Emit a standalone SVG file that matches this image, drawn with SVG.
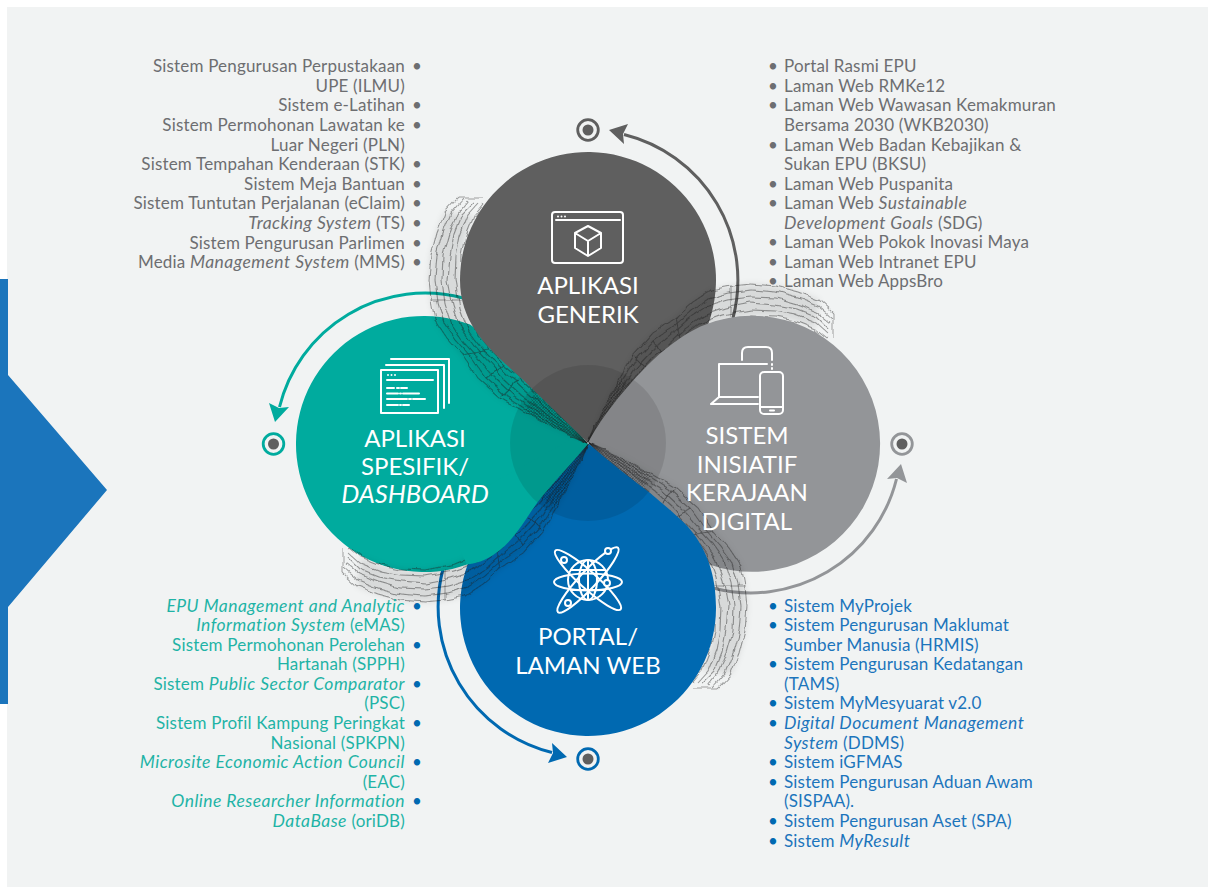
<svg xmlns="http://www.w3.org/2000/svg" width="1208" height="887" viewBox="0 0 1208 887">
<style>
text{font-family:"Lato","Open Sans","Liberation Sans",sans-serif}
.l{font-size:17px;letter-spacing:.18px}
.l .i{font-size:17.5px;letter-spacing:.45px}
.e{text-anchor:end}
.gr{fill:#6d6e71}
.te{fill:#1fb3a6}
.bl{fill:#1c75bc}
.bb{fill:#0069b1}
.i{font-style:italic}
.lab{font-size:24px;fill:#fff;text-anchor:middle}
.lab.i{font-size:25.5px}
.ic{fill:none;stroke:#fff;stroke-width:2;stroke-linecap:round;stroke-linejoin:round}
.w{fill:#fff}
.bandline{fill:none;stroke:#222;stroke-width:1.1;stroke-opacity:.42}
</style>
<defs>
<filter id="rough" filterUnits="userSpaceOnUse" x="400" y="170" width="210" height="300">
<feTurbulence type="fractalNoise" baseFrequency="0.09" numOctaves="1" seed="7" result="n"/>
<feDisplacementMap in="SourceGraphic" in2="n" scale="7" xChannelSelector="R" yChannelSelector="G"/>
</filter>
<filter id="soft" filterUnits="userSpaceOnUse" x="400" y="170" width="210" height="300"><feGaussianBlur stdDeviation="3"/></filter>
<pattern id="hatch" width="3" height="3" patternUnits="userSpaceOnUse"><path d="M0 0L3 3M3 0L0 3" stroke="#111" stroke-width=".5" fill="none"/></pattern>
<g id="band">
<path filter="url(#soft)" fill="#000" fill-opacity=".1" d="M445 212L437 232L431 255L429 280L431 300L435 320L447 338L462 355L478 378L500 398L525 412L552 427L587 442L570 425L552 408L535 392L520 378L505 365L490 350L478 335L467 310L461 280L462 256L466 236L474 216Z"/>
<path fill="url(#hatch)" fill-opacity=".4" d="M525 412L552 427L587 442L570 425L552 408L535 392Z"/>
<g filter="url(#rough)" class="bandline">
<path d="M458 198L445 212L437 232L431 255L429 280L431 300L435 320L447 338L462 355L478 378L500 398L525 412L552 427L587 442"/>
<path d="M463 199L451 213L443 233L437 255L435 280L438 302L444 323L456 340L471 357L486 378L507 397L530 411L556 427L587 442"/>
<path d="M468 200L457 214L449 234L443 255L442 280L445 304L452 326L464 343L479 359L495 378L514 396L536 410L559 426L587 442"/>
<path d="M474 202L462 214L454 234L450 256L448 280L453 306L461 329L473 345L488 361L503 378L521 395L541 410L563 426L587 442"/>
<path d="M479 203L468 215L460 235L456 256L455 280L460 308L469 332L481 348L496 363L512 378L528 393L547 409L566 425L587 442"/>
<path d="M484 204L474 216L466 236L462 256L461 280L467 310L478 335L490 350L505 365L520 378L535 392L552 408L570 425L587 442"/>
<path d="M458 198H484M431 300H461M462 355L490 350M486 378L505 365M500 398L520 378"/>
</g>
</g>
<g id="arc">
<path d="M733 318A150 150 0 0 0 624 134.500" fill="none" stroke="currentColor" stroke-width="3"/>
<polygon points="609,130 628,124 623,134 624,144" fill="currentColor"/>
</g>
</defs>

<rect width="1208" height="887" fill="#fff"/>
<rect id="panel" x="7" y="7" width="1201" height="880" fill="#f1f3f3"/>
<path id="side-arrow" d="M0 279H8V375L107 490L8 607V704H0Z" fill="#1b75bc"/>

<g id="connectors">
<use href="#arc" color="#5f5f5f"/>
<use href="#arc" color="#939598" transform="rotate(90 588 443)"/>
<use href="#arc" color="#0069b1" transform="rotate(180 588 443) translate(0 -1)"/>
<use href="#arc" color="#00ab9e" transform="rotate(-90 588 443)"/>
</g>

<g id="petals">
<path id="petal-teal" fill="#00ab9e" d="M588 444C570 465 552 484 537 503C525 520 515 538 500 550C490 558 480 563 467 564.600A128 128 0 1 1 470 324.600L520 360Z"/>
<use href="#band"/>
<path id="petal-dark" fill="#5f5f5f" d="M588 443L520 377C490 350 460 325 460 280A128 128 0 1 1 680 369Z"/>
<use href="#band" transform="rotate(90 588 443)"/>
<path id="petal-grey" fill="#939598" d="M588 443C600 420 622 390 653 360C670 344 690 330 707 324A128 128 0 1 1 670 542Z"/>
<use href="#band" transform="rotate(180 588 443)"/>
<path id="petal-blue" fill="#0069b1" d="M589 444C610 462 630 478 650 493C670 510 685 522 693 533C707 552 716 575 716 608A128 128 0 1 1 496 519Z"/>
<use href="#band" transform="rotate(270 588 443)"/>
<path id="petal-teal-front" fill="#00ab9e" d="M588 444C570 465 552 484 537 503C525 520 515 538 500 550C490 558 480 563 467 564.600L455 540L480 490L570 440Z"/>
<circle id="hub" cx="588" cy="443" r="78" fill="#000" fill-opacity=".1"/>
</g>

<g id="targets">
<circle cx="588" cy="130" r="10.3" fill="none" stroke="#5f5f5f" stroke-width="2.8"/><circle cx="588" cy="130" r="5.5" fill="#5f5f5f"/>
<circle cx="273.500" cy="444" r="10.3" fill="none" stroke="#00ab9e" stroke-width="2.8"/><circle cx="273.500" cy="444" r="5.500" fill="#5f5f5f"/>
<circle cx="588" cy="759" r="10.3" fill="none" stroke="#0069b1" stroke-width="2.8"/><circle cx="588" cy="759" r="5.5" fill="#5f5f5f"/>
<circle cx="902" cy="444" r="10.3" fill="none" stroke="#939598" stroke-width="2.8"/><circle cx="902" cy="444" r="5.5" fill="#5f5f5f"/>
</g>

<g id="node-generik">
<g class="ic">
<rect x="552" y="212" width="71" height="51" rx="3"/>
<path d="M556 220H620"/>
<path d="M588 226L601 233V248L588 256L575 248V233ZM575 233L588 241L601 233M588 241V256"/>
</g>
<circle class="w" cx="558" cy="216.500" r="1"/><circle class="w" cx="561.500" cy="216.500" r="1"/><circle class="w" cx="565" cy="216.500" r="1"/>
<text class="lab" x="588" y="294">APLIKASI</text>
<text class="lab" x="588" y="323">GENERIK</text>
<g class="l gr">
<text class="e" x="405" y="72">Sistem Pengurusan Perpustakaan</text>
<text class="e" x="405" y="92">UPE (ILMU)</text>
<text class="e" x="405" y="111">Sistem e-Latihan</text>
<text class="e" x="405" y="131">Sistem Permohonan Lawatan ke</text>
<text class="e" x="405" y="151">Luar Negeri (PLN)</text>
<text class="e" x="405" y="170">Sistem Tempahan Kenderaan (STK)</text>
<text class="e" x="405" y="190">Sistem Meja Bantuan</text>
<text class="e" x="405" y="209">Sistem Tuntutan Perjalanan (eClaim)</text>
<text class="e" x="405" y="229"><tspan class="i">Tracking System</tspan> (TS)</text>
<text class="e" x="405" y="249">Sistem Pengurusan Parlimen</text>
<text class="e" x="405" y="268">Media <tspan class="i">Management System</tspan> (MMS)</text>
<text x="412" y="72">•</text><text x="412" y="111">•</text><text x="412" y="131">•</text><text x="412" y="170">•</text><text x="412" y="190">•</text><text x="412" y="209">•</text><text x="412" y="229">•</text><text x="412" y="249">•</text><text x="412" y="268">•</text>
<text x="784" y="72">Portal Rasmi EPU</text>
<text x="784" y="92">Laman Web RMKe12</text>
<text x="784" y="111">Laman Web Wawasan Kemakmuran</text>
<text x="784" y="131">Bersama 2030 (WKB2030)</text>
<text x="784" y="151">Laman Web Badan Kebajikan &amp;</text>
<text x="784" y="170">Sukan EPU (BKSU)</text>
<text x="784" y="190">Laman Web Puspanita</text>
<text x="784" y="209">Laman Web <tspan class="i">Sustainable</tspan></text>
<text x="784" y="229"><tspan class="i">Development Goals</tspan> (SDG)</text>
<text x="784" y="248">Laman Web Pokok Inovasi Maya</text>
<text x="784" y="268">Laman Web Intranet EPU</text>
<text x="784" y="287">Laman Web AppsBro</text>
<text x="768" y="72">•</text><text x="768" y="92">•</text><text x="768" y="111">•</text><text x="768" y="151">•</text><text x="768" y="190">•</text><text x="768" y="209">•</text><text x="768" y="248">•</text><text x="768" y="268">•</text><text x="768" y="287">•</text>
</g>
</g>

<g id="node-spesifik">
<g class="ic">
<rect x="381" y="370" width="57" height="43"/>
<path d="M386 365H444V408M391 359H449V403M387 380H433"/>
<path d="M387 388H394M397 388H399M401 388H407M387 393.500H398M400 393.500H401M403 393.500H419M387 399H407M409 399H411M413 399H425M387 405H398M400 405H401M403 405H409"/>
</g>
<circle class="w" cx="388" cy="375" r="1"/><circle class="w" cx="391.500" cy="375" r="1"/><circle class="w" cx="395" cy="375" r="1"/>
<text class="lab" x="415" y="447">APLIKASI</text>
<text class="lab" x="415" y="475">SPESIFIK/</text>
<text class="lab i" x="415" y="503">DASHBOARD</text>
<g class="l te">
<text class="e" x="405" y="612"><tspan class="i">EPU Management and Analytic</tspan></text>
<text class="e" x="405" y="631"><tspan class="i">Information System</tspan> (eMAS)</text>
<text class="e" x="405" y="651">Sistem Permohonan Perolehan</text>
<text class="e" x="405" y="670">Hartanah (SPPH)</text>
<text class="e" x="405" y="690">Sistem <tspan class="i">Public Sector Comparator</tspan></text>
<text class="e" x="405" y="709">(PSC)</text>
<text class="e" x="405" y="729">Sistem Profil Kampung Peringkat</text>
<text class="e" x="405" y="749">Nasional (SPKPN)</text>
<text class="e" x="405" y="768"><tspan class="i">Microsite Economic Action Council</tspan></text>
<text class="e" x="405" y="788">(EAC)</text>
<text class="e" x="405" y="807"><tspan class="i">Online Researcher Information</tspan></text>
<text class="e" x="405" y="827"><tspan class="i">DataBase</tspan> (oriDB)</text>
</g>
<g class="l bb"><text x="412" y="612">•</text><text x="412" y="651">•</text><text x="412" y="690">•</text><text x="412" y="729">•</text><text x="412" y="768">•</text><text x="412" y="807">•</text></g>
</g>

<g id="node-sistem">
<g class="ic">
<path d="M767 364H719V397H758M719 397L711 404H758"/>
<rect x="760" y="372" width="23" height="42" rx="4"/>
<path d="M760 407H783M770 410.500H774"/>
<path d="M742 360V353Q742 347 748 347H766Q772 347 772 353V360M772 364V365M772 368V369"/>
</g>
<text class="lab" x="747" y="444">SISTEM</text>
<text class="lab" x="747" y="473">INISIATIF</text>
<text class="lab" x="747" y="501">KERAJAAN</text>
<text class="lab" x="747" y="530">DIGITAL</text>
</g>

<g id="node-portal">
<g class="ic">
<circle cx="588" cy="580" r="20"/>
<ellipse cx="588" cy="580" rx="9" ry="20"/>
<path d="M588 560V600M571 570H605M571 590H605"/>
<ellipse cx="588" cy="582" rx="34" ry="8.500"/>
<ellipse cx="588" cy="580" rx="44" ry="8.500" transform="rotate(-47 588 580)"/>
<ellipse cx="588" cy="580" rx="44" ry="8.500" transform="rotate(42 588 580)"/>
</g>
<g fill="#0069b1" stroke="#fff" stroke-width="2"><circle cx="608" cy="551" r="3"/><circle cx="568" cy="603" r="3"/><circle cx="564" cy="560" r="3"/><circle cx="607" cy="583" r="3"/></g>
<text class="lab" x="588" y="645">PORTAL/</text>
<text class="lab" x="588" y="674">LAMAN WEB</text>
<g class="l bl">
<text x="784" y="612">Sistem MyProjek</text>
<text x="784" y="631">Sistem Pengurusan Maklumat</text>
<text x="784" y="651">Sumber Manusia (HRMIS)</text>
<text x="784" y="670">Sistem Pengurusan Kedatangan</text>
<text x="784" y="690">(TAMS)</text>
<text x="784" y="709">Sistem MyMesyuarat v2.0</text>
<text x="784" y="729"><tspan class="i">Digital Document Management</tspan></text>
<text x="784" y="749"><tspan class="i">System</tspan> (DDMS)</text>
<text x="784" y="768">Sistem iGFMAS</text>
<text x="784" y="788">Sistem Pengurusan Aduan Awam</text>
<text x="784" y="807">(SISPAA).</text>
<text x="784" y="827">Sistem Pengurusan Aset (SPA)</text>
<text x="784" y="847">Sistem <tspan class="i">MyResult</tspan></text>
</g>
<g class="l bb"><text x="768" y="612">•</text><text x="768" y="631">•</text><text x="768" y="670">•</text><text x="768" y="709">•</text><text x="768" y="729">•</text><text x="768" y="768">•</text><text x="768" y="788">•</text><text x="768" y="827">•</text><text x="768" y="847">•</text></g>
</g>
</svg>
